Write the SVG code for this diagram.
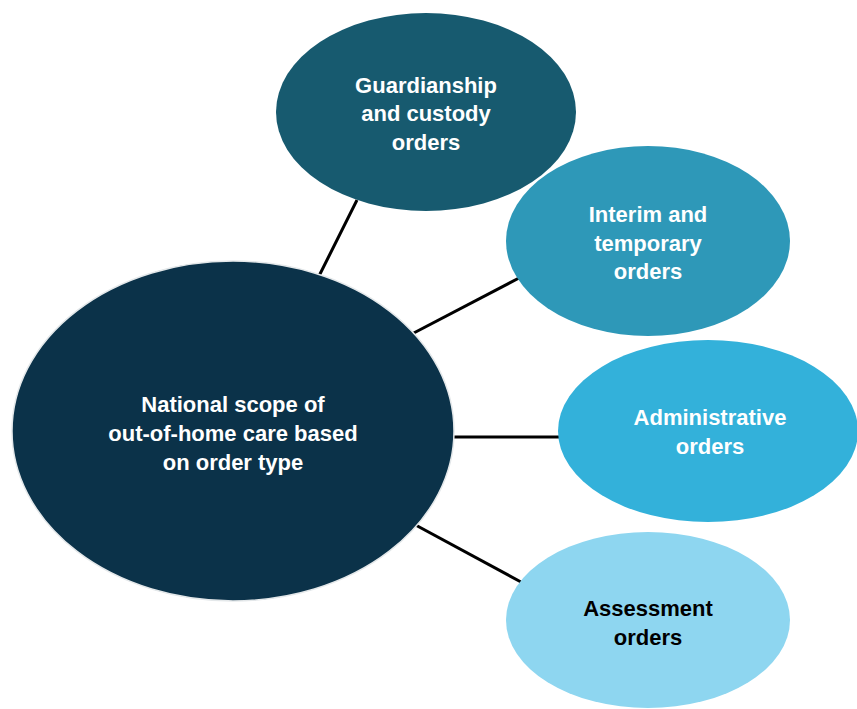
<svg xmlns="http://www.w3.org/2000/svg" width="857" height="709" viewBox="0 0 857 709">
<style>
.lbl{font-family:"Liberation Sans",Arial,sans-serif;font-weight:bold;font-size:22px;text-anchor:middle}
.w{fill:#ffffff}
.k{fill:#000000}
.conn line{stroke:#000;stroke-width:3}
</style>
<rect width="857" height="709" fill="#ffffff"/>
<g id="connectors" class="conn">
<line x1="319" y1="276" x2="357" y2="200"/>
<line x1="408" y1="336" x2="519" y2="278"/>
<line x1="449" y1="437" x2="560" y2="437"/>
<line x1="410" y1="522" x2="521" y2="582"/>
</g>
<g id="main">
<ellipse cx="233" cy="431" rx="221" ry="170" fill="#0b3249" stroke="#e4e8ea" stroke-width="1.5"/>
<text class="lbl w" x="233" y="412">National scope of</text>
<text class="lbl w" x="233" y="441">out-of-home care based</text>
<text class="lbl w" x="233" y="470">on order type</text>
</g>
<g id="guardianship">
<ellipse cx="426" cy="112" rx="150" ry="99" fill="#175a6f"/>
<text class="lbl w" x="426" y="93">Guardianship</text>
<text class="lbl w" x="426" y="121">and custody</text>
<text class="lbl w" x="426" y="150">orders</text>
</g>
<g id="interim">
<ellipse cx="648" cy="241" rx="142" ry="95" fill="#2e98b8"/>
<text class="lbl w" x="648" y="222">Interim and</text>
<text class="lbl w" x="648" y="251">temporary</text>
<text class="lbl w" x="648" y="279">orders</text>
</g>
<g id="administrative">
<ellipse cx="708" cy="431" rx="150" ry="91" fill="#33b1da"/>
<text class="lbl w" x="710" y="425">Administrative</text>
<text class="lbl w" x="710" y="454">orders</text>
</g>
<g id="assessment">
<ellipse cx="648" cy="620" rx="142" ry="88" fill="#8ed6f0"/>
<text class="lbl k" x="648" y="616">Assessment</text>
<text class="lbl k" x="648" y="645">orders</text>
</g>
</svg>
